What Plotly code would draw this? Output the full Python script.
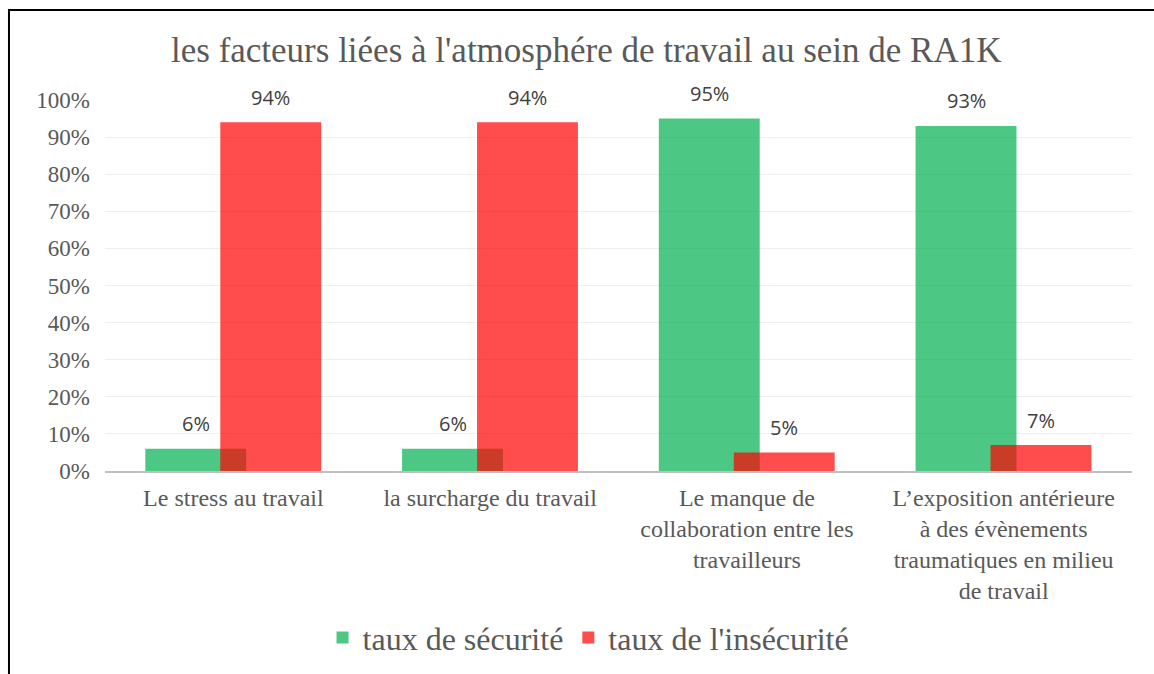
import plotly.graph_objects as go

# données
categories = [
    "Le stress au travail",
    "la surcharge du travail",
    "Le manque de<br>collaboration entre les<br>travailleurs",
    "L\u2019exposition antérieure<br>à des évènements<br>traumatiques en milieu<br>de travail",
]
securite = [0.06, 0.06, 0.95, 0.93]
insecurite = [0.94, 0.94, 0.05, 0.07]
noms = ["taux de sécurité", "taux de l'insécurité"]

x_pos = list(range(len(categories)))
bar_w = 0.393
off_vert = -0.343
off_rouge = -0.051

SERIF = "Liberation Serif, Times New Roman, serif"
SANS = "Open Sans, Noto Sans, sans-serif"

fig = go.Figure()
fig.add_trace(go.Bar(
    x=x_pos, y=securite, name=noms[0],
    width=bar_w, offset=off_vert,
    marker=dict(color="rgba(0,176,80,0.7)", line=dict(width=0)),
))
fig.add_trace(go.Bar(
    x=x_pos, y=insecurite, name=noms[1],
    width=bar_w, offset=off_rouge,
    marker=dict(color="rgba(255,0,0,0.7)", line=dict(width=0)),
))

# étiquettes de valeurs au-dessus des barres
for serie, off in ((securite, off_vert), (insecurite, off_rouge)):
    for i, v in zip(x_pos, serie):
        fig.add_annotation(
            x=i + off + bar_w / 2, y=v, text=f"{round(v * 100)}%",
            showarrow=False, yanchor="middle", yshift=25,
            font=dict(family=SANS, size=20, color="#404040"),
        )

# cadre (bords gauche et haut)
fig.add_shape(type="path", xref="paper", yref="paper",
              path="M -0.0935 -0.6 L -0.0935 1.2426 L 1.1 1.2426",
              line=dict(color="black", width=2))

fig.update_layout(
    width=1154, height=674,
    margin=dict(l=105, r=22, t=100, b=203),
    paper_bgcolor="white", plot_bgcolor="white",
    barmode="overlay",
    title=dict(
        text="les facteurs liées à l'atmosphére de travail au sein de RA1K",
        x=0.508, xanchor="center", y=0.926, yanchor="middle",
        font=dict(family=SERIF, size=35, color="#595959"),
    ),
    legend=dict(
        orientation="h", xref="container", yref="container",
        x=0.51, xanchor="center", y=0.054, yanchor="middle",
        font=dict(family=SERIF, size=32, color="#595959"),
        itemwidth=30,
    ),
    xaxis=dict(
        range=[-0.5, 3.5],
        tickvals=x_pos, ticktext=categories,
        tickfont=dict(family=SERIF, size=24, color="#595959"),
        showgrid=False, showline=True, linecolor="#bfbfbf", linewidth=2,
        ticks="", zeroline=False, ticklabelstandoff=4, automargin=False,
    ),
    yaxis=dict(
        range=[0, 1], dtick=0.1, tickformat=".0%",
        tickfont=dict(family=SERIF, size=23, color="#595959"),
        showgrid=True, gridcolor="#efefef", gridwidth=1,
        zeroline=False, showline=False, ticks="", ticklabelstandoff=14,
        automargin=False,
    ),
)

fig.write_html("out.html", config={"displayModeBar": False},
               post_script="document.body.style.margin='0';")
